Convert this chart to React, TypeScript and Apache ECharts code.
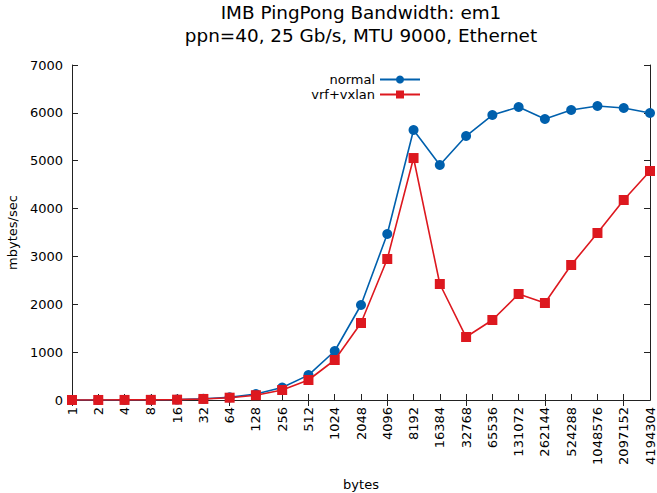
import React, { useEffect, useRef } from "react";
import * as echarts from "echarts";

const messageSizes = [
  "1", "2", "4", "8", "16", "32", "64", "128", "256", "512", "1024", "2048",
  "4096", "8192", "16384", "32768", "65536", "131072", "262144", "524288",
  "1048576", "2097152", "4194304",
];

const normalBandwidth = [
  0.5, 1, 2, 4, 8, 25, 55, 125, 260, 520, 1024, 1985, 3468, 5641, 4910, 5516,
  5955, 6122, 5871, 6060, 6143, 6101, 5997,
];

const vrfVxlanBandwidth = [
  0.4, 0.8, 1.6, 3, 7, 22, 48, 100, 209, 418, 836, 1609, 2946, 5056, 2424,
  1316, 1672, 2215, 2027, 2821, 3490, 4179, 4785,
];

const yTicks = { min: 0, max: 7000, interval: 1000 };

const FONT = "DejaVu Sans";
const AXIS_COLOR = "#222";
const BLUE = "#0060ad";
const RED = "#dd181f";

export default function App() {
  const ref = useRef<HTMLDivElement>(null);

  useEffect(() => {
    if (!ref.current) return;
    const chart = echarts.init(ref.current, undefined, { renderer: "svg" });

    const tickLine = { show: true, inside: true, length: 6, lineStyle: { color: AXIS_COLOR } };
    const axisLine = { show: true, lineStyle: { color: AXIS_COLOR, width: 1 } };
    const titleFont = `18.4px '${FONT}'`;

    chart.setOption({
      animation: false,
      backgroundColor: "#fff",
      textStyle: { fontFamily: FONT },
      graphic: [
        {
          type: "text",
          x: 361,
          y: 3,
          style: {
            text: "IMB PingPong Bandwidth: em1",
            font: titleFont,
            fill: "#000",
            align: "center",
            verticalAlign: "top",
          },
        },
        {
          type: "text",
          x: 361,
          y: 26,
          style: {
            text: "ppn=40, 25 Gb/s, MTU 9000, Ethernet",
            font: titleFont,
            fill: "#000",
            align: "center",
            verticalAlign: "top",
          },
        },
      ],
      grid: {
        left: 72,
        right: 7,
        top: 65,
        bottom: 93,
        containLabel: false,
        outerBoundsMode: "none",
      },
      legend: {
        orient: "vertical",
        right: 236,
        top: 73,
        align: "right",
        itemWidth: 40,
        itemHeight: 10,
        itemGap: 2,
        padding: 0,
        textStyle: { fontFamily: FONT, fontSize: 13, color: "#000" },
        data: ["normal", "vrf+vxlan"],
      },
      xAxis: [
        {
          type: "category",
          data: messageSizes,
          boundaryGap: false,
          name: "bytes",
          nameLocation: "middle",
          nameGap: 78,
          nameTextStyle: { fontFamily: FONT, fontSize: 13, color: "#000" },
          axisLine,
          axisTick: { ...tickLine, alignWithLabel: true },
          axisLabel: {
            rotate: 90,
            fontFamily: FONT,
            fontSize: 13,
            color: "#000",
            margin: 7,
            interval: 0,
          },
          splitLine: { show: false },
        },
        {
          type: "category",
          data: messageSizes,
          boundaryGap: false,
          position: "top",
          axisLine,
          axisTick: tickLine,
          axisLabel: { show: false },
          splitLine: { show: false },
        },
      ],
      yAxis: [
        {
          type: "value",
          ...yTicks,
          name: "mbytes/sec",
          nameLocation: "middle",
          nameGap: 47,
          nameTextStyle: { fontFamily: FONT, fontSize: 13, color: "#000" },
          axisLine,
          axisTick: tickLine,
          axisLabel: {
            fontFamily: FONT,
            fontSize: 13,
            color: "#000",
            margin: 9,
            formatter: (v: number) => String(v),
          },
          splitLine: { show: false },
        },
        {
          type: "value",
          ...yTicks,
          position: "right",
          axisLine,
          axisTick: tickLine,
          axisLabel: { show: false },
          splitLine: { show: false },
        },
      ],
      series: [
        {
          name: "normal",
          type: "line",
          data: normalBandwidth,
          color: BLUE,
          symbol: "circle",
          symbolSize: 10,
          showAllSymbol: true,
          lineStyle: { width: 1.6, color: BLUE },
          itemStyle: { color: BLUE },
          z: 2,
        },
        {
          name: "vrf+vxlan",
          type: "line",
          data: vrfVxlanBandwidth,
          color: RED,
          symbol: "rect",
          symbolSize: 10,
          showAllSymbol: true,
          lineStyle: { width: 1.6, color: RED },
          itemStyle: { color: RED },
          z: 3,
        },
      ],
    });

    return () => chart.dispose();
  }, []);

  return (
    <div
      ref={ref}
      style={{ position: "fixed", left: 0, top: 0, width: 657, height: 493 }}
    />
  );
}
